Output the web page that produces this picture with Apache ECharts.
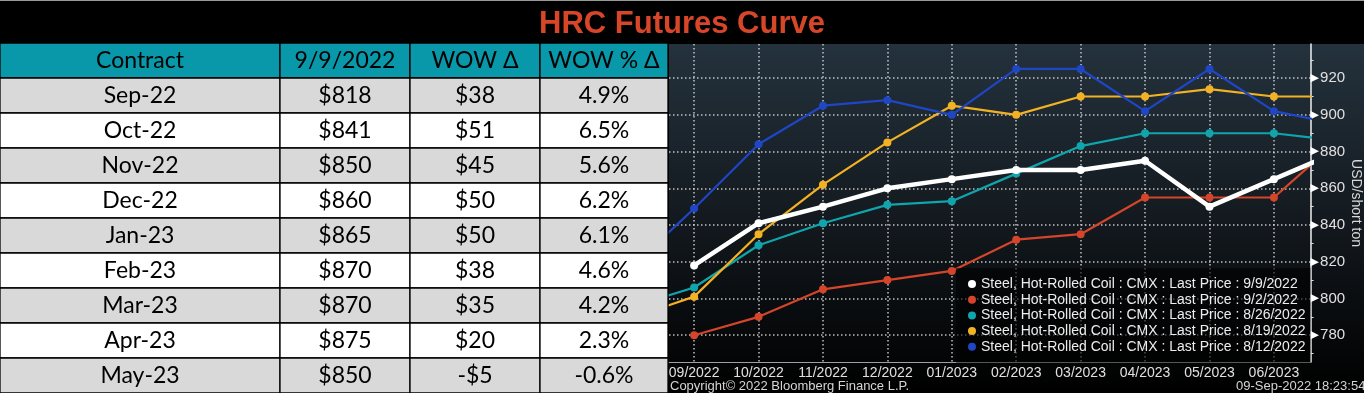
<!DOCTYPE html>
<html><head><meta charset="utf-8">
<script src="https://cdn.jsdelivr.net/npm/echarts@6/dist/echarts.min.js"></script>
<style>html,body{margin:0;padding:0;background:#000;overflow:hidden}#c{width:1364px;height:393px}</style>
</head><body><div id="c"></div>
<script>
// ---- table data ----
const tableHeaders = ['Contract', '9/9/2022', 'WOW \u0394', 'WOW % \u0394'];
const contracts = ['Sep-22', 'Oct-22', 'Nov-22', 'Dec-22', 'Jan-23', 'Feb-23', 'Mar-23', 'Apr-23', 'May-23'];
const prices = [818, 841, 850, 860, 865, 870, 870, 875, 850];
const wowDelta = [38, 51, 45, 50, 50, 38, 35, 20, -5];
const wowPct = [4.9, 6.5, 5.6, 6.2, 6.1, 4.6, 4.2, 2.3, -0.6];

// ---- curve data (x index: -1 = 08/2022 ... 10 = 07/2023) ----
const monthLabels = ['09/2022', '10/2022', '11/2022', '12/2022', '01/2023', '02/2023', '03/2023', '04/2023', '05/2023', '06/2023'];
const monthIdx = [-1, 0, 1, 2, 3, 4, 5, 6, 7, 8, 9, 10];
const curve0909 = [null, 818, 841, 850, 860, 865, 870, 870, 875, 850, 865, 880];
const curve0902 = [null, 780, 790, 805, 810, 815, 832, 835, 855, 855, 855, 886];
const curve0826 = [795, 806, 829, 841, 851, 853, 868, 883, 890, 890, 890, 886];
const curve0819 = [789, 801, 835, 862, 885, 905, 900, 910, 910, 914, 910, 910];
const curve0812 = [816, 849, 884, 905, 908, 900, 925, 925, 902, 925, 902, 895];
const seriesNames = [
  'Steel, Hot-Rolled Coil : CMX : Last Price : 9/9/2022',
  'Steel, Hot-Rolled Coil : CMX : Last Price : 9/2/2022',
  'Steel, Hot-Rolled Coil : CMX : Last Price : 8/26/2022',
  'Steel, Hot-Rolled Coil : CMX : Last Price : 8/19/2022',
  'Steel, Hot-Rolled Coil : CMX : Last Price : 8/12/2022'
];
const yTicks = [780, 800, 820, 840, 860, 880, 900, 920];
const yMinorTicks = [770, 790, 810, 830, 850, 870, 890, 910, 930];

// ---- layout / style ----
const colEdges = [0, 280, 410, 540, 668];
const seriesColors = ['#FFFFFF', '#D4452A', '#10A5AD', '#F3B223', '#1F46C4'];
const seriesWidths = [4.5, 2.2, 2.2, 2.2, 2.2];
const chartFont = 'Liberation Sans';

const cells = [];
tableHeaders.forEach((h, c) => cells.push([c, 0, h]));
contracts.forEach((ct, r) => {
  const d = wowDelta[r];
  cells.push([0, r + 1, ct]);
  cells.push([1, r + 1, '$' + prices[r]]);
  cells.push([2, r + 1, (d < 0 ? '-$' : '$') + Math.abs(d)]);
  cells.push([3, r + 1, wowPct[r].toFixed(1) + '%']);
});

const curves = [curve0909, curve0902, curve0826, curve0819, curve0812];
const lineSeries = curves.map((vals, s) => ({
  name: seriesNames[s],
  type: 'line',
  xAxisIndex: 0, yAxisIndex: 0,
  z: s === 0 ? 5 : 3,
  symbol: 'circle',
  symbolSize: 8,
  showSymbol: true,
  clip: true,
  lineStyle: { color: seriesColors[s], width: seriesWidths[s] },
  itemStyle: { color: seriesColors[s] },
  data: monthIdx.map((x, i) => [x, vals[i]]).filter(p => p[1] !== null),
  animation: false
}));

const gridLine = { show: true, lineStyle: { color: 'rgba(225,225,225,0.85)', width: 1.5, type: [1.5, 2.5] } };

const chart = echarts.init(document.getElementById('c'));
chart.setOption({
  backgroundColor: '#000',
  animation: false,
  title: {
    text: 'HRC Futures Curve', left: 'center', top: 9, padding: 0,
    textStyle: { color: '#D8462A', fontFamily: 'Liberation Sans', fontWeight: 'bold', fontSize: 31 }
  },
  graphic: { elements: [
    { type: 'rect', z: -100, shape: { x: 0, y: 0, width: 1364, height: 1 }, style: { fill: '#9a9a9a' } },
    { type: 'rect', z: -100, shape: { x: 669, y: 44, width: 695, height: 349 },
      style: { fill: { type: 'linear', x: 0, y: 0, x2: 0, y2: 1, colorStops: [
        { offset: 0, color: '#24323D' }, { offset: 0.45, color: '#151C22' }, { offset: 0.9, color: '#040506' }, { offset: 1, color: '#000' } ] } } },
    { type: 'text', left: 670, top: 380, style: { text: 'Copyright\u00A9 2022 Bloomberg Finance L.P.', fill: '#D5D5D5', font: '13px "Liberation Sans"' } },
    { type: 'text', left: 1236, top: 380, style: { text: '09-Sep-2022 18:23:54', fill: '#D5D5D5', font: '13px "Liberation Sans"' } }
  ] },
  legend: {
    orient: 'vertical', left: 956, top: 268,
    padding: [9, 5, 9, 12],
    backgroundColor: 'rgba(0,0,0,0.6)',
    itemWidth: 8, itemHeight: 8, itemGap: 1.7,
    icon: 'circle', selectedMode: false,
    textStyle: { color: '#EDEDED', fontFamily: chartFont, fontSize: 14, lineHeight: 14 },
    data: seriesNames
  },
  grid: [
    { left: 669, right: 48, top: 44, bottom: 31, containLabel: false },
    { left: 0, top: 43, width: 668, height: 350, containLabel: false }
  ],
  xAxis: [
    { type: 'value', gridIndex: 0, min: -0.39, max: 9.57,
      axisLine: { show: true, onZero: false, lineStyle: { color: '#A0A0A0', width: 1 } },
      axisTick: { show: false, customValues: monthIdx.slice(1, 11) },
      axisLabel: { customValues: monthIdx.slice(1, 11), formatter: v => monthLabels[Math.round(v)],
        color: '#E0E0E0', fontFamily: chartFont, fontSize: 14, margin: 4 },
      splitLine: gridLine },
    { type: 'value', gridIndex: 1, min: 0, max: 668, show: false }
  ],
  yAxis: [
    { type: 'value', gridIndex: 0, position: 'right', min: 765.4, max: 938.6,
      name: 'USD/short ton', nameLocation: 'middle', nameRotate: -90, nameGap: 33,
      nameTextStyle: { color: '#D8D8D8', fontFamily: chartFont, fontSize: 14 },
      axisLine: { show: true, onZero: false, lineStyle: { color: '#F0F0F0', width: 1.5 } },
      axisTick: { show: false, customValues: yTicks },
      axisLabel: { customValues: yTicks, margin: 0, color: '#E0E0E0', fontFamily: chartFont, fontSize: 15,
        formatter: v => '{t|\u25B6}{v|' + v + '}',
        rich: { t: { color: '#FFFFFF', fontSize: 11, fontFamily: 'DejaVu Sans', padding: [0, 1, 0, 0] },
                v: { color: '#E0E0E0', fontSize: 15, fontFamily: chartFont } } },
      splitLine: gridLine },
    { type: 'value', gridIndex: 0, position: 'right', min: 765.4, max: 938.6,
      axisLine: { show: false, onZero: false },
      axisTick: { show: true, inside: false, length: 3, customValues: yMinorTicks, lineStyle: { color: '#E0E0E0', width: 1 } },
      axisLabel: { show: false }, splitLine: { show: false } },
    { type: 'value', gridIndex: 1, min: 0, max: 10, inverse: true, show: false }
  ],
  series: lineSeries.concat([{
    type: 'custom',
    xAxisIndex: 1, yAxisIndex: 2,
    z: 10, silent: true,
    data: cells.map(c => [colEdges[c[0]], c[1]]),
    renderItem: function (params, api) {
      const cell = cells[params.dataIndex];
      const c = cell[0], r = cell[1];
      const p0 = api.coord([colEdges[c], r]);
      const p1 = api.coord([colEdges[c + 1], r + 1]);
      const fill = r === 0 ? '#0898A9' : (r % 2 === 1 ? '#D9D9D9' : '#FFFFFF');
      return { type: 'group', children: [
        { type: 'rect', shape: { x: p0[0], y: p0[1], width: p1[0] - p0[0], height: p1[1] - p0[1] },
          style: { fill: fill, stroke: '#000', lineWidth: 1.3 } },
        { type: 'text', style: { x: (p0[0] + p1[0]) / 2, y: (p0[1] + p1[1]) / 2, text: cell[2],
          fill: '#000', fontSize: 23, fontFamily: 'Lato', align: 'center', verticalAlign: 'middle' } }
      ] };
    }
  }])
});
</script>
</body></html>
